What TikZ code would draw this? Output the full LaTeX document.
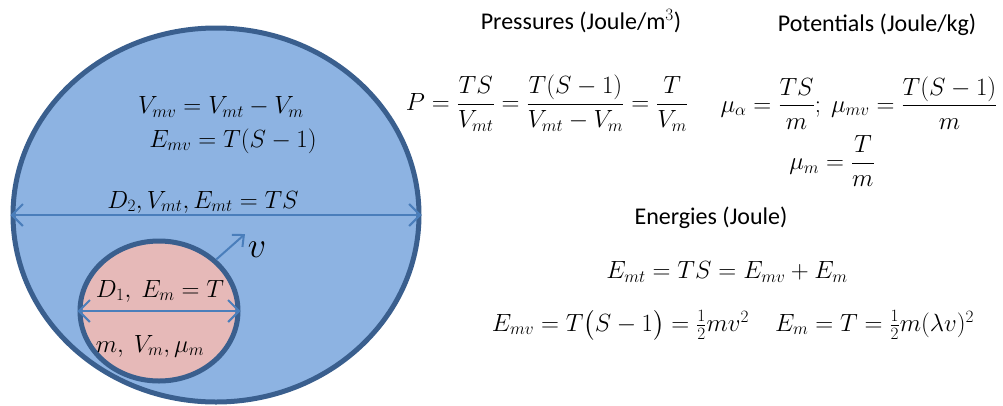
\documentclass[tikz,border=0pt]{standalone}
\usepackage{amsmath}
\usepackage{fontspec}
\setmainfont{Carlito}
\usetikzlibrary{shapes.geometric,arrows.meta}
\definecolor{bigfill}{HTML}{8DB3E2}
\definecolor{smallfill}{HTML}{E6B9B8}
\definecolor{rim}{HTML}{3A5F8E}
\definecolor{arr}{HTML}{4A7EBB}
\tikzset{
  blob/.style={ellipse,draw=rim,line width=5pt,inner sep=0pt},
  mth/.style={font=\fontsize{26}{30}\selectfont,inner sep=1pt},
  ttl/.style={font=\fontsize{24}{28}\selectfont,inner sep=1pt},
  dim/.style={draw=arr,line width=2pt,{Straight Barb[length=11pt,width=22pt]}-{Straight Barb[length=11pt,width=22pt]}},
  vel/.style={draw=arr,line width=2pt,-{Straight Barb[length=9pt,width=16pt]}}
}
\begin{document}
\begin{tikzpicture}[x=1pt,y=-1pt]
\useasboundingbox (0,0) rectangle (1003,405);
% ellipses
\node[blob,fill=bigfill,minimum width=406pt,minimum height=374pt] (big) at (216,215) {};
\node[blob,fill=smallfill,minimum width=158pt,minimum height=140pt] (small) at (159,311) {};
% dimension arrows
\draw[dim] (big.west) -- (big.east);
\draw[dim] (small.west) -- (small.east);
\coordinate (vtip) at (245,234);
\draw[vel] (small.42) -- (vtip);
% labels in the circles
\node[mth] (vmv) at (221,107) {$V_{mv} = V_{mt} - V_m$};
\node[mth] (emv) at (233,141) {$E_{mv} = T(S-1)$};
\node[mth] (d2) at (203,202) {$D_2, V_{mt}, E_{mt} = TS$};
\node[mth,scale=1.45] (vlab) at (257,250) {$v$};
\node[mth] (d1) at (160,291) {$D_1,\ E_m = T$};
\node[mth] (mvm) at (150,346) {$m,\ V_m, \mu_m$};
% right side
\node[ttl] (press) at (581,21) {Pressures (Joule/m$^{3}$)};
\node[ttl] (pot) at (877,25) {Potentials (Joule/kg)};
\node[mth] (peq) at (547,103) {$\displaystyle P=\frac{TS}{V_{mt}}=\frac{T(S-1)}{V_{mt}-V_m}=\frac{T}{V_m}$};
\node[mth] (mueq) at (859,103) {$\displaystyle \mu_\alpha=\frac{TS}{m};\ \mu_{mv}=\frac{T(S-1)}{m}$};
\node[mth] (mum) at (832,161) {$\displaystyle \mu_m=\frac{T}{m}$};
\node[ttl] (en) at (711,218) {Energies (Joule)};
\node[mth] (emt) at (727,272) {$E_{mt}=TS=E_{mv}+E_m$};
\node[mth] (ekin) at (733,325) {$E_{mv}=T\bigl(S-1\bigr)=\tfrac{1}{2}mv^2\quad E_m=T=\tfrac{1}{2}m(\lambda v)^2$};
\end{tikzpicture}
\end{document}
